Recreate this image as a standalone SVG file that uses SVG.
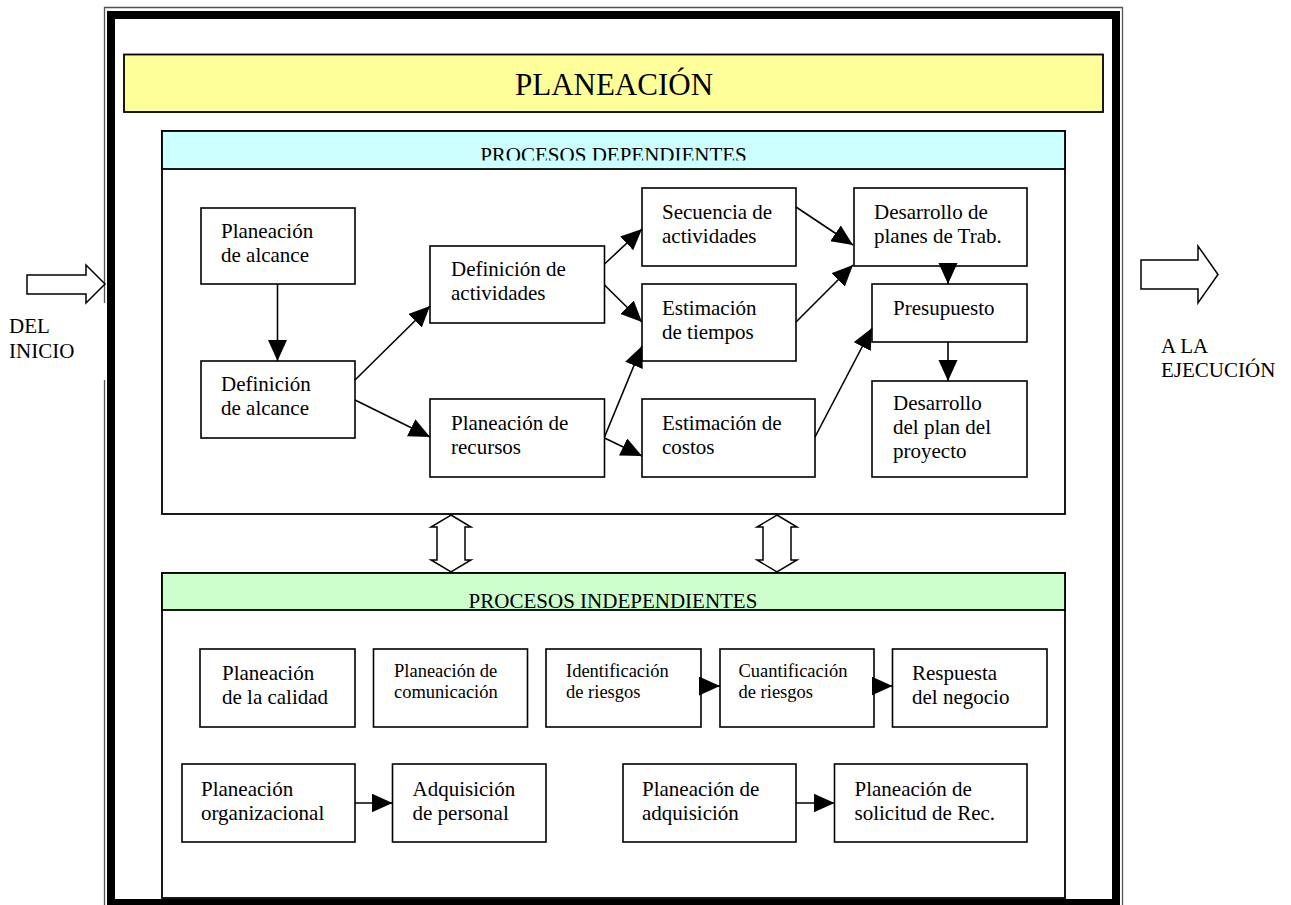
<svg xmlns="http://www.w3.org/2000/svg" width="1291" height="905" viewBox="0 0 1291 905">
<style>
text{font-family:"Liberation Serif","Times New Roman",serif;fill:#000}
.t{font-size:21px}
.s{font-size:18.5px}
.box{fill:#fff;stroke:#000;stroke-width:1.6}
.con{stroke:#000;stroke-width:1.6;fill:none;marker-end:url(#ah)}
.blk{fill:#fff;stroke:#000;stroke-width:1.5}
</style>
<defs>
<marker id="ah" markerUnits="userSpaceOnUse" markerWidth="22" markerHeight="20" refX="21" refY="9.5" orient="auto">
<path d="M0,0 L21,9.5 L0,19 z" fill="#000"/>
</marker>
<clipPath id="cd"><rect x="162" y="131" width="903" height="29.5"/></clipPath>
<clipPath id="ci"><rect x="162" y="573" width="903" height="36"/></clipPath>
</defs>
<rect width="1291" height="905" fill="#fff"/>

<g id="frame">
<path d="M104.5,303 V7.5 H1122.5 V910 M104.5,380 V910" fill="none" stroke="#555" stroke-width="1.3"/>
<rect x="111" y="15" width="1005" height="888" fill="none" stroke="#000" stroke-width="8"/>
</g>

<g id="title">
<rect x="124" y="54.5" width="979" height="57.5" fill="#FFFF99" stroke="#000" stroke-width="1.8"/>
<text x="614" y="95" font-size="31" text-anchor="middle">PLANEACIÓN</text>
</g>

<g id="dependientes">
<rect x="162" y="131" width="903" height="383" fill="#fff" stroke="#000" stroke-width="1.8"/>
<rect x="162" y="131" width="903" height="38" fill="#CCFFFF" stroke="#000" stroke-width="1.8"/>
<text class="t" x="613.5" y="162" text-anchor="middle" clip-path="url(#cd)">PROCESOS DEPENDIENTES</text>
</g>

<g id="independientes">
<rect x="162" y="573" width="903" height="325" fill="#fff" stroke="#000" stroke-width="1.8"/>
<rect x="162" y="573" width="903" height="37" fill="#CCFFCC" stroke="#000" stroke-width="1.8"/>
<text class="t" x="613" y="608" text-anchor="middle" clip-path="url(#ci)">PROCESOS INDEPENDIENTES</text>
</g>

<g id="del-inicio">
<polygon class="blk" points="27,275 86,275 86,265 105,284 86,303 86,294 27,294"/>
<text class="t" x="9" y="333">DEL</text>
<text class="t" x="9" y="358">INICIO</text>
</g>

<g id="a-la-ejecucion">
<polygon class="blk" points="1141,260 1198,260 1198,246 1218,274.5 1198,303 1198,289 1141,289"/>
<text class="t" x="1161" y="353">A LA</text>
<text class="t" x="1161" y="377">EJECUCIÓN</text>
</g>

<g id="link-arrows">
<polygon class="blk" points="451,515 471,527 465,527 465,560 471,560 451,572 431,560 437,560 437,527 431,527"/>
<polygon class="blk" points="777,515 797,527 791,527 791,560 797,560 777,572 757,560 763,560 763,527 757,527"/>
</g>

<g id="n-plan-alcance"><rect class="box" x="201" y="208" width="154" height="76"/>
<text class="t" x="221" y="238">Planeación</text><text class="t" x="221" y="262">de alcance</text></g>
<g id="n-def-alcance"><rect class="box" x="201" y="361" width="154" height="77"/>
<text class="t" x="221" y="391">Definición</text><text class="t" x="221" y="415">de alcance</text></g>
<g id="n-def-act"><rect class="box" x="430" y="246" width="174.5" height="77"/>
<text class="t" x="451" y="276">Definición de</text><text class="t" x="451" y="300">actividades</text></g>
<g id="n-plan-rec"><rect class="box" x="430" y="399" width="174.5" height="78"/>
<text class="t" x="451" y="430">Planeación de</text><text class="t" x="451" y="454">recursos</text></g>
<g id="n-secuencia"><rect class="box" x="642" y="188" width="154" height="78"/>
<text class="t" x="662" y="219">Secuencia de</text><text class="t" x="662" y="243">actividades</text></g>
<g id="n-est-tiempos"><rect class="box" x="642" y="284" width="154" height="77"/>
<text class="t" x="662" y="315">Estimación</text><text class="t" x="662" y="339">de tiempos</text></g>
<g id="n-est-costos"><rect class="box" x="642" y="399" width="173" height="78"/>
<text class="t" x="662" y="430">Estimación de</text><text class="t" x="662" y="454">costos</text></g>
<g id="n-des-planes"><rect class="box" x="854" y="188" width="173" height="78"/>
<text class="t" x="874" y="219">Desarrollo de</text><text class="t" x="874" y="243">planes de Trab.</text></g>
<g id="n-presupuesto"><rect class="box" x="872" y="284" width="155" height="58"/>
<text class="t" x="893" y="315">Presupuesto</text></g>
<g id="n-des-plan"><rect class="box" x="872" y="381" width="155" height="96"/>
<text class="t" x="893" y="410">Desarrollo</text><text class="t" x="893" y="434">del plan del</text><text class="t" x="893" y="458">proyecto</text></g>

<g id="n-calidad"><rect class="box" x="200" y="649" width="155" height="78"/>
<text class="t" x="222" y="680">Planeación</text><text class="t" x="222" y="704">de la calidad</text></g>
<g id="n-comunicacion"><rect class="box" x="373.5" y="649" width="154" height="78"/>
<text class="s" x="394" y="677">Planeación de</text><text class="s" x="394" y="698">comunicación</text></g>
<g id="n-ident-riesgos"><rect class="box" x="546" y="649" width="155" height="78"/>
<text class="s" x="566" y="677">Identificación</text><text class="s" x="566" y="698">de riesgos</text></g>
<g id="n-cuant-riesgos"><rect class="box" x="720" y="649" width="154" height="78"/>
<text class="s" x="738.5" y="677">Cuantificación</text><text class="s" x="738.5" y="698">de riesgos</text></g>
<g id="n-respuesta"><rect class="box" x="892.5" y="649" width="154.5" height="78"/>
<text class="t" x="912" y="680">Respuesta</text><text class="t" x="912" y="704">del negocio</text></g>
<g id="n-organizacional"><rect class="box" x="182" y="764" width="173" height="78"/>
<text class="t" x="201" y="796">Planeación</text><text class="t" x="201" y="820">organizacional</text></g>
<g id="n-adq-personal"><rect class="box" x="392.5" y="764" width="153.5" height="78"/>
<text class="t" x="412.5" y="796">Adquisición</text><text class="t" x="412.5" y="820">de personal</text></g>
<g id="n-plan-adq"><rect class="box" x="623" y="764" width="173" height="78"/>
<text class="t" x="642" y="796">Planeación de</text><text class="t" x="642" y="820">adquisición</text></g>
<g id="n-solicitud"><rect class="box" x="834.5" y="764" width="192.5" height="78"/>
<text class="t" x="854.5" y="796">Planeación de</text><text class="t" x="854.5" y="820">solicitud de Rec.</text></g>

<g id="connectors">
<line class="con" x1="277.5" y1="284" x2="277.5" y2="361"/>
<line class="con" x1="355" y1="380" x2="430" y2="306"/>
<line class="con" x1="355" y1="400" x2="430" y2="437"/>
<line class="con" x1="604.5" y1="264" x2="642" y2="229"/>
<line class="con" x1="604.5" y1="285" x2="642" y2="322"/>
<line class="con" x1="796" y1="207" x2="853" y2="245"/>
<line class="con" x1="796" y1="322" x2="853" y2="265"/>
<line class="con" x1="948" y1="266" x2="948" y2="284"/>
<line class="con" x1="948" y1="342" x2="948" y2="381"/>
<line class="con" x1="604.5" y1="437" x2="642" y2="346"/>
<line class="con" x1="604.5" y1="438" x2="642" y2="456"/>
<line class="con" x1="815" y1="437" x2="872" y2="328"/>
<line class="con" x1="701" y1="686" x2="720" y2="686"/>
<line class="con" x1="874" y1="686" x2="892.5" y2="686"/>
<line class="con" x1="355" y1="803" x2="392.5" y2="803"/>
<line class="con" x1="796" y1="803" x2="834.5" y2="803"/>
</g>
</svg>
